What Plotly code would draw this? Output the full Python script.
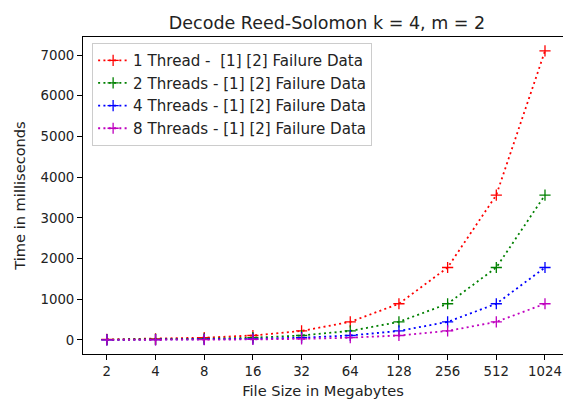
import plotly.graph_objects as go

sizes = ["2", "4", "8", "16", "32", "64", "128", "256", "512", "1024"]
one_thread = [14, 28, 56, 111, 222, 445, 890, 1780, 3560, 7100]
two_threads = [7, 14, 28, 56, 111, 222, 445, 890, 1780, 3560]
four_threads = [3.5, 7, 14, 28, 56, 111, 222, 445, 890, 1780]
eight_threads = [1.8, 3.5, 7, 14, 28, 56, 111, 222, 445, 890]

series = [
    ("1 Thread -&nbsp; [1] [2] Failure Data", one_thread, "#ff0000"),
    ("2 Threads - [1] [2] Failure Data", two_threads, "#008000"),
    ("4 Threads - [1] [2] Failure Data", four_threads, "#0000ff"),
    ("8 Threads - [1] [2] Failure Data", eight_threads, "#bf00bf"),
]

fig = go.Figure()
for name, vals, col in series:
    fig.add_trace(go.Scatter(
        x=sizes, y=vals, name=name, mode="lines+markers",
        line=dict(color=col, width=1.8, dash="2px,3.3px"),
        marker=dict(symbol="cross-thin-open", size=8, line=dict(color=col, width=1.3)),
    ))

font = "DejaVu Sans, sans-serif"
fig.update_layout(
    width=563, height=399,
    margin=dict(l=83, r=0, t=37, b=45, autoexpand=False),
    paper_bgcolor="white", plot_bgcolor="white",
    font=dict(family=font, size=13.3, color="#222"),
    title=dict(text="Decode Reed-Solomon k = 4, m = 2", x=327 / 563, xanchor="center",
               y=1 - 23 / 399, yanchor="middle", font=dict(size=17.5, color="#222")),
    showlegend=True,
    legend=dict(x=0.019, y=0.981, xanchor="left", yanchor="top",
                bordercolor="#cccccc", borderwidth=1, bgcolor="rgba(255,255,255,0.8)",
                font=dict(size=15.1, color="#222"), itemwidth=30, tracegroupgap=0),
)
fig.update_xaxes(
    type="category", categoryorder="array", categoryarray=sizes,
    range=[-0.49, 9.37], showgrid=False, zeroline=False, automargin=True,
    showline=True, linecolor="black", linewidth=1, mirror=True,
    ticks="outside", ticklen=5, tickcolor="black",
    title=dict(text="File Size in Megabytes", standoff=7, font=dict(size=14.6)),
)
fig.update_yaxes(
    range=[-344, 7442], showgrid=False, zeroline=False, automargin=True,
    showline=True, linecolor="black", linewidth=1,
    ticks="outside", ticklen=5, tickcolor="black",
    tickvals=[0, 1000, 2000, 3000, 4000, 5000, 6000, 7000],
    title=dict(text="Time in milliseconds", standoff=11, font=dict(size=14.6)),
)
fig.write_html("out.html")
